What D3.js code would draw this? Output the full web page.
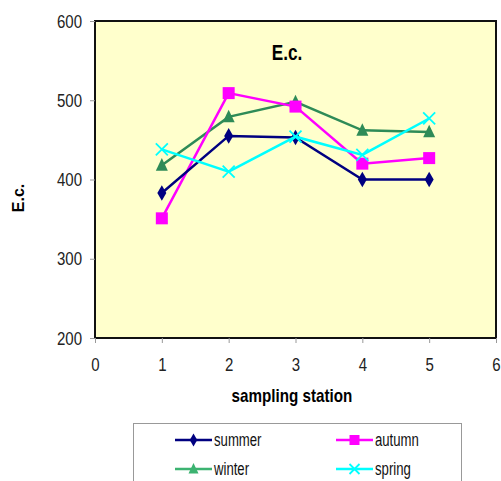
<!DOCTYPE html>
<html><head><meta charset="utf-8">
<script src="https://cdn.jsdelivr.net/npm/d3@7"></script>
<style>
body{margin:0;background:#fff;}
text{font-family:"Liberation Sans Narrow","Arial Narrow","Liberation Sans",Arial,sans-serif;}
</style></head>
<body><svg id="c" width="501" height="481"></svg>
<script>
const stations = [1,2,3,4,5];
const summer = [383,455,453,400,400];
const autumn = [351,509,492,420,427];
const winter = [418,479,498,462,460];
const spring = [438,410,454,431,477];
const xTicks = [0,1,2,3,4,5,6];
const yTicks = [200,300,400,500,600];
const seriesNames = ["summer","autumn","winter","spring"];
const seriesColors = ["#000080","#FF00FF","#2E8B57","#00FFFF"];
const seriesMarkers = ["diamond","square","triangle","cross"];
const seriesData = [summer, autumn, winter, spring];

const svg = d3.select("#c");
const L=95, T=21, R=496, B=338;
const x = d3.scaleLinear().domain([0,6]).range([L,R]);
const y = d3.scaleLinear().domain([200,600]).range([B,T]);

function condense(sel, f){
  sel.each(function(){
    const w = this.getComputedTextLength();
    d3.select(this).attr("textLength", w*f).attr("lengthAdjust","spacingAndGlyphs");
  });
}

// plot background
svg.append("rect").attr("x",L+1).attr("y",T+1).attr("width",R-L).attr("height",B-T)
  .attr("fill","#888").attr("opacity",0.6);
svg.append("rect").attr("x",L).attr("y",T).attr("width",R-L).attr("height",B-T)
  .attr("fill","#FFFFCC").attr("stroke","#111").attr("stroke-width",2);

// axes
const ya = svg.append("g").attr("transform",`translate(${L},0)`)
  .call(d3.axisLeft(y).tickValues(yTicks).tickFormat(d3.format("d")).tickSize(5).tickPadding(8));
const xa = svg.append("g").attr("transform",`translate(0,${B})`)
  .call(d3.axisBottom(x).tickValues(xTicks).tickFormat(d3.format("d")).tickSize(5).tickPadding(15));
[ya,xa].forEach(g=>{
  g.select(".domain").remove();
  g.selectAll(".tick line").attr("stroke","#999");
  g.selectAll(".tick text").attr("font-size",19).attr("fill","#222")
    .style("font-family",'"Liberation Sans Narrow","Arial Narrow","Liberation Sans",Arial,sans-serif');
  condense(g.selectAll(".tick text"), 0.79);
});

// title and labels
svg.append("text").attr("x",287).attr("y",60).attr("text-anchor","middle")
  .attr("font-size",22).attr("font-weight","bold").text("E.c.").call(condense,0.78);
svg.append("text").attr("transform","translate(24,198) rotate(-90)").attr("text-anchor","middle")
  .attr("font-size",16).attr("font-weight","bold").text("E.c.");
svg.append("text").attr("x",292).attr("y",402).attr("text-anchor","middle")
  .attr("font-size",19).attr("font-weight","bold").text("sampling station").call(condense,0.8);

function marker(g, type, cx, cy, color, s){
  if(type==="diamond"){
    g.append("path").attr("d",`M${cx},${cy-s*1.3}L${cx+s*0.75},${cy}L${cx},${cy+s*1.3}L${cx-s*0.75},${cy}Z`).attr("fill",color);
  } else if(type==="square"){
    g.append("rect").attr("x",cx-s).attr("y",cy-s).attr("width",2*s).attr("height",2*s).attr("fill",color);
  } else if(type==="triangle"){
    g.append("path").attr("d",`M${cx},${cy-s*1.2}L${cx+s},${cy+s*0.9}L${cx-s},${cy+s*0.9}Z`).attr("fill",color);
  } else {
    g.append("path").attr("d",`M${cx-s},${cy-s}L${cx+s},${cy+s}M${cx-s},${cy+s}L${cx+s},${cy-s}`)
      .attr("stroke",color).attr("stroke-width",1.8);
  }
}

const line = d3.line().x((d,i)=>x(stations[i])).y(d=>y(d));
const order = [2,1,0,3];
order.forEach(k=>{
  const g = svg.append("g");
  g.append("path").datum(seriesData[k]).attr("d",line).attr("fill","none")
    .attr("stroke",seriesColors[k]).attr("stroke-width",2.5);
  seriesData[k].forEach((v,i)=>marker(g, seriesMarkers[k], x(stations[i]), y(v), seriesColors[k], 6));
});

// legend
svg.append("rect").attr("x",133.5).attr("y",423.5).attr("width",328).attr("height",70)
  .attr("fill","#fff").attr("stroke","#999").attr("stroke-width",1);
const legPos = [[175,440],[336,440],[175,469],[336,469]];
const legColors = ["#000080","#FF00FF","#3CB371","#00FFFF"];
seriesNames.forEach((n,k)=>{
  const [lx,ly] = legPos[k];
  const g = svg.append("g");
  g.append("line").attr("x1",lx).attr("x2",lx+37).attr("y1",ly).attr("y2",ly)
    .attr("stroke",legColors[k]).attr("stroke-width",2.5);
  marker(g, seriesMarkers[k], lx+18.5, ly, legColors[k], 5);
  g.append("text").attr("x",lx+39).attr("y",ly+6).attr("font-size",18).attr("fill","#111").text(n).call(condense,0.73);
});
</script></body></html>
